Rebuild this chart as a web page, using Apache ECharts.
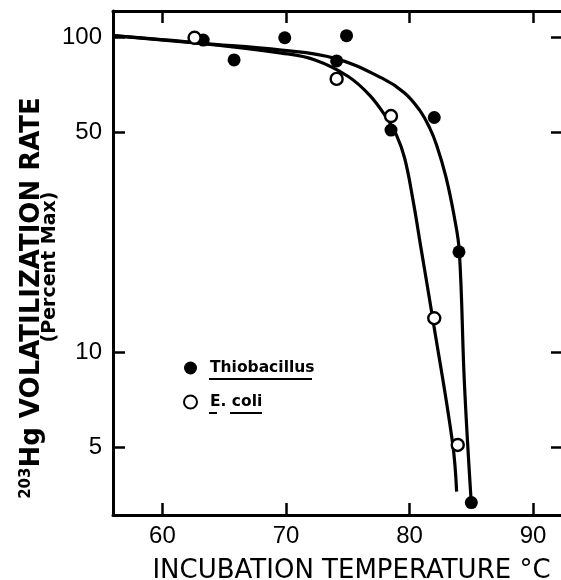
<!DOCTYPE html>
<html>
<head>
<meta charset="utf-8">
<script src="https://cdn.jsdelivr.net/npm/echarts@6/dist/echarts.min.js"></script>
<style>html,body{margin:0;padding:0;background:#fff}#c{width:561px;height:580px}</style>
</head>
<body>
<div id="c"></div>
<script>
// Measured points
var thioTemp = [62.6, 63.3, 65.8, 69.9, 74.1, 74.9, 78.5, 82.0, 84.0, 85.0];
var thioRate = [100, 98.3, 85.0, 100, 84.4, 101.5, 50.9, 55.8, 20.9, 3.34];
var ecoliTemp = [62.6, 74.1, 78.5, 82.0, 83.9];
var ecoliRate = [100, 74.0, 56.4, 12.86, 5.09];
// Fitted curves
var thioCurveTemp = [56, 63.1, 69.64, 73.98, 77.78, 79.6, 80.8, 81.6, 82.2, 82.94, 83.62, 84.03, 84.44, 84.98];
var thioCurveRate = [101.5, 96.0, 91.4, 86.0, 74.4, 66.8, 59.0, 52.0, 45.5, 36.2, 27.0, 20.9, 8.0, 3.41];
var ecoliCurveTemp = [56, 63.1, 69.64, 72.35, 75.07, 76.8, 78.1, 78.9, 79.6, 80.28, 80.95, 81.85, 83.48, 83.81];
var ecoliCurveRate = [101.5, 96.0, 89.4, 85.0, 75.2, 65.5, 56.0, 49.5, 41.5, 30.5, 21.2, 13.0, 5.17, 3.62];
var xTicks = [60, 70, 80, 90];
var yTicks = [5, 10, 50, 100];
var seriesNames = ['Thiobacillus', 'E. coli'];

function zip(a, b) { return a.map(function (v, i) { return [v, b[i]]; }); }

var FONT = 'DejaVu Sans';
var NUMFONT = 'Liberation Sans';
var chart = echarts.init(document.getElementById('c'), null, {renderer: 'canvas'});
var axisLine = {show: true, lineStyle: {color: '#000', width: 3}};
var tickStyle = {color: '#000', width: 2.5};
var xRange = {min: 56, max: 92.5};
var yRange = {min: 3.05, max: 121.6};

chart.setOption({
  animation: false,
  backgroundColor: '#fff',
  grid: {left: 113, top: 11, right: -3, bottom: 65, containLabel: false, outerBoundsMode: 'none'},
  xAxis: [{
    type: 'value', min: xRange.min, max: xRange.max, position: 'bottom',
    axisLine: axisLine,
    axisTick: {show: true, inside: true, length: 12, lineStyle: tickStyle, customValues: xTicks},
    axisLabel: {show: true, customValues: xTicks, color: '#000', fontFamily: NUMFONT, fontSize: 24, margin: 9},
    splitLine: {show: false},
    name: 'INCUBATION TEMPERATURE °C', nameLocation: 'middle', nameGap: 43,
    nameTextStyle: {color: '#000', fontFamily: FONT, fontSize: 26, padding: [0, 0, 0, 26]}
  }, {
    type: 'value', min: xRange.min, max: xRange.max, position: 'top',
    axisLine: axisLine,
    axisTick: {show: true, inside: true, length: 12, lineStyle: tickStyle, customValues: xTicks},
    axisLabel: {show: false}, splitLine: {show: false}
  }],
  yAxis: [{
    type: 'log', logBase: 10, min: yRange.min, max: yRange.max, position: 'left',
    axisLine: axisLine,
    axisTick: {show: true, inside: true, length: 12, lineStyle: tickStyle, customValues: yTicks},
    axisLabel: {show: true, customValues: yTicks, color: '#000', fontFamily: NUMFONT, fontSize: 24, margin: 11},
    splitLine: {show: false}, minorTick: {show: false}
  }, {
    type: 'log', logBase: 10, min: yRange.min, max: yRange.max, position: 'right',
    axisLine: axisLine,
    axisTick: {show: true, inside: true, length: 13, lineStyle: tickStyle, customValues: yTicks},
    axisLabel: {show: false}, splitLine: {show: false}
  }],
  legend: {
    data: seriesNames, orient: 'vertical', left: 183, top: 360, itemGap: 18,
    itemWidth: 13, itemHeight: 13, padding: 0,
    textStyle: {color: '#000', fontFamily: FONT, fontSize: 15.5, fontWeight: 'bold', padding: [0, 0, 0, 8]}
  },
  graphic: [
    {type: 'text', x: 32, y: 298, rotation: Math.PI / 2,
     style: {text: '{s|203}{b|Hg VOLATILIZATION RATE}', align: 'center', verticalAlign: 'middle',
       rich: {s: {fontFamily: FONT, fontSize: 15, fontWeight: 'bold', fill: '#000', verticalAlign: 'top', lineHeight: 27},
              b: {fontFamily: FONT, fontSize: 26, fontWeight: 'bold', fill: '#000', lineHeight: 27}}}},
    {type: 'text', x: 50, y: 267, rotation: Math.PI / 2,
     style: {text: '(Percent Max)', align: 'center', verticalAlign: 'middle',
       fontFamily: FONT, fontSize: 19, fontWeight: 'bold', fill: '#000'}},
    {type: 'rect', shape: {x: 209, y: 378, width: 103, height: 2}, style: {fill: '#000'}},
    {type: 'rect', shape: {x: 209, y: 412, width: 8, height: 2}, style: {fill: '#000'}},
    {type: 'rect', shape: {x: 230, y: 412, width: 32, height: 2}, style: {fill: '#000'}}
  ],
  series: [
    {name: 'thioCurve', type: 'line', data: zip(thioCurveTemp, thioCurveRate), smooth: 0.4,
     symbol: 'none', lineStyle: {color: '#000', width: 3.2}, z: 2, silent: true},
    {name: 'ecoliCurve', type: 'line', data: zip(ecoliCurveTemp, ecoliCurveRate), smooth: 0.4,
     symbol: 'none', lineStyle: {color: '#000', width: 3.2}, z: 2, silent: true},
    {name: seriesNames[0], type: 'scatter', data: zip(thioTemp, thioRate), symbol: 'circle', symbolSize: 13,
     itemStyle: {color: '#000', opacity: 1}, z: 4},
    {name: seriesNames[1], type: 'scatter', data: zip(ecoliTemp, ecoliRate), symbol: 'circle', symbolSize: 12,
     itemStyle: {color: '#fff', borderColor: '#000', borderWidth: 2.4, opacity: 1}, z: 5}
  ]
});
</script>
</body>
</html>
